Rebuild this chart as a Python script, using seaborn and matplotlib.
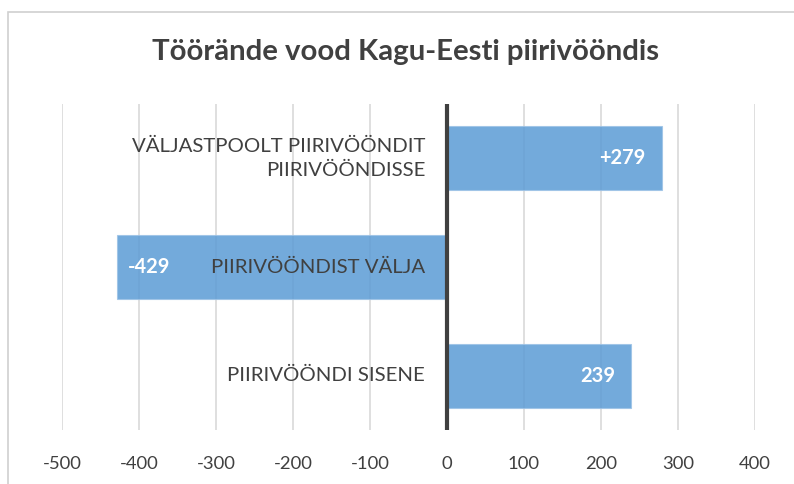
import matplotlib
matplotlib.use("Agg")
import matplotlib.pyplot as plt
import matplotlib.transforms as mtransforms
from matplotlib.patches import Rectangle
import seaborn as sns
import pandas as pd

# Data
categories = ["VÄLJASTPOOLT PIIRIVÖÖNDIT\nPIIRIVÖÖNDISSE", "PIIRIVÖÖNDIST VÄLJA", "PIIRIVÖÖNDI SISENE"]
values = [279, -429, 239]
value_labels = ["+279", "-429", "239"]
x_ticks = [-500, -400, -300, -200, -100, 0, 100, 200, 300, 400]
title = "Töörände vood Kagu-Eesti piirivööndis"

sns.set_theme(style="white")
plt.rcParams["font.family"] = ["Lato", "DejaVu Sans"]

text_color = "#404040"
bar_color = "#5B9BD5"

df = pd.DataFrame({"category": categories, "value": values})

fig = plt.figure(figsize=(7.94, 4.84), dpi=100)
ax = fig.add_axes([62 / 794, (484 - 430) / 484, (755 - 62) / 794, (430 - 104) / 484])

sns.barplot(data=df, x="value", y="category", orient="h", color=bar_color,
            width=0.59, ax=ax, saturation=1, alpha=0.85,
            edgecolor="#9DC3E6", linewidth=0.8, zorder=2)

ax.set_xlim(-500, 400)
ax.set_ylim(2.5, -0.5)
ax.set_xticks(x_ticks)
ax.set_xticklabels([str(t) for t in x_ticks], fontsize=13.3, color=text_color)
ax.tick_params(axis="x", length=0, pad=19)
ax.set_yticks([])
ax.set_xlabel("")
ax.set_ylabel("")
ax.xaxis.grid(True, color="#D9D9D9", linewidth=1.2, zorder=0)
ax.set_axisbelow(True)
for s in ax.spines.values():
    s.set_visible(False)

# Zero axis line
ax.axvline(0, color="#404040", linewidth=3, zorder=3)

# Category labels next to the zero axis
cat_offset = mtransforms.offset_copy(ax.transData, fig=fig, x=-22, y=0, units="dots")
for i, cat in enumerate(categories):
    ax.text(0, i, cat, transform=cat_offset, ha="right", va="center",
            fontsize=14.7, color=text_color, linespacing=1.5, zorder=4)

# Value labels inside bar ends
for i, (v, lab) in enumerate(zip(values, value_labels)):
    if v >= 0:
        tr = mtransforms.offset_copy(ax.transData, fig=fig, x=-16, y=0, units="dots")
        ha = "right"
    else:
        tr = mtransforms.offset_copy(ax.transData, fig=fig, x=11, y=0, units="dots")
        ha = "left"
    ax.text(v, i, lab, transform=tr, ha=ha, va="center", fontsize=14.5,
            fontweight="bold", color="white", zorder=5)

fig.text(406 / 794, (484 - 52) / 484, title, ha="center", va="center",
         fontsize=21.2, fontweight="bold", color=text_color)

# Chart frame
fig.patches.append(Rectangle((8 / 794, -0.1), 1.2, (484 - 12) / 484 + 0.1,
                             transform=fig.transFigure, fill=False,
                             edgecolor="#D0D0D0", linewidth=1.2))

fig.savefig("out.png", dpi=100)
